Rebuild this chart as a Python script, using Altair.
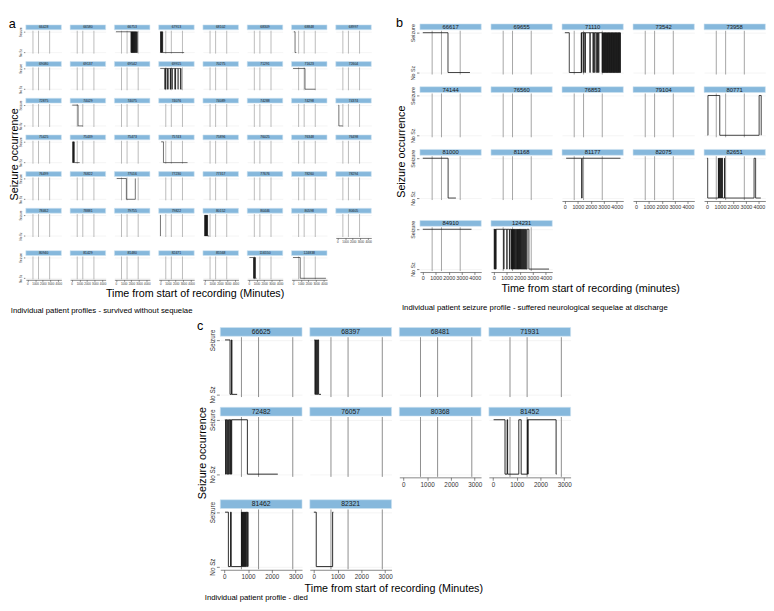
import altair as alt
import pandas as pd

FONT = "Liberation Sans"
REF_TIMES = [720, 1440, 2880]

# ---------------- panel a : survived without sequelae ----------------
A_IDS = ["66428", "66580", "66753", "67913", "68102", "68309", "68848", "68997",
         "69080", "69137", "69542", "69915", "70275", "71291", "71623", "72604",
         "72875", "74029", "74075", "74076", "74089", "74288", "74298", "74374",
         "75425", "75439", "75473", "75743", "75896", "76025", "76348", "76498",
         "76499", "76822", "77016", "77230", "77317", "77676", "78260", "78294",
         "78462", "78881", "79755", "79822", "80152", "80446", "80598", "80605",
         "80940", "81429", "81480", "82471", "85568", "116550", "124838"]
A_STEPS = {
    "66753": [(0, 1), (1950, 0), (1980, 1), (2010, 0), (2040, 1), (2070, 0), (2100, 1), (2130, 0),
              (2160, 1), (2190, 0), (2220, 1), (2250, 0), (2290, 1), (2320, 0), (2350, 1), (2380, 0),
              (2420, 1), (2450, 0), (2480, 1), (2520, 0), (2560, 1), (2600, 0), (2640, 1), (2680, 0),
              (2720, 1), (2760, 0), (2800, 0)],
    "67913": [(0, 1), (40, 0), (70, 1), (110, 0), (140, 1), (180, 0), (210, 1), (250, 0), (280, 1),
              (320, 0), (3100, 0)],
    "68848": [(100, 1), (260, 0), (430, 0)],
    "69915": [(0, 1), (600, 0), (630, 1), (660, 0), (690, 1), (900, 0), (930, 1), (1000, 0), (1030, 1),
              (1300, 0), (1330, 1), (1360, 0), (1390, 1), (1550, 0), (1580, 1), (1900, 0), (1930, 1),
              (1960, 0), (1990, 1), (2300, 0), (2330, 1), (2620, 0), (2650, 1), (2700, 0), (2760, 0)],
    "71623": [(0, 1), (1550, 0), (2900, 0)],
    "74029": [(75, 1), (830, 0), (1450, 0)],
    "74374": [(150, 1), (200, 0), (700, 0)],
    "75439": [(100, 1), (140, 0), (170, 1), (200, 0), (230, 1), (260, 0), (290, 1), (330, 0), (1040, 0)],
    "75743": [(120, 1), (420, 0), (3540, 0)],
    "77016": [(100, 1), (1350, 0), (2510, 1)],
    "79822": [(0, 1), (30, 0), (60, 0)],
    "80152": [(0, 1), (30, 0), (60, 1), (90, 0), (120, 1), (150, 0), (180, 1), (210, 0), (240, 1),
              (270, 0), (300, 1), (330, 0), (360, 1), (400, 0), (600, 0)],
    "116550": [(80, 1), (620, 0), (660, 1), (700, 0), (740, 1), (780, 0), (820, 1), (860, 0), (1000, 0)],
    "124838": [(0, 1), (930, 0), (4260, 0)],
}

# ---------------- panel b : neurological sequelae ----------------
B_IDS = ["66617", "69655", "71110", "73542", "73958", "74144", "76560", "76853", "79104",
         "80771", "81000", "81168", "81177", "82075", "82651", "84910", "124231"]
B_STEPS = {
    "66617": [(0, 1), (1940, 0), (3630, 0)],
    "71110": [(0, 1), (340, 0), (1260, 1), (1290, 0), (1310, 1), (1450, 0), (1470, 1), (1560, 0),
              (1580, 1), (1930, 0), (1950, 1), (2170, 0), (2190, 1), (2250, 0), (2270, 1), (2400, 0),
              (2420, 1), (2510, 0), (2530, 1), (2600, 0), (2620, 1), (2870, 0), (2900, 1), (2930, 0),
              (2960, 1), (2990, 0), (3020, 1), (3050, 0), (3080, 1), (3110, 0), (3140, 1), (3170, 0),
              (3200, 1), (3230, 0), (3260, 1), (3290, 0), (3320, 1), (3350, 0), (3380, 1), (3410, 0),
              (3440, 1), (3470, 0), (3500, 1), (3530, 0), (3560, 1), (3590, 0), (3620, 1), (3650, 0),
              (3680, 1), (3710, 0), (3740, 1), (3770, 0), (3800, 1), (3830, 0), (3860, 1), (3890, 0),
              (3920, 1), (3950, 0), (3980, 1), (4010, 0), (4040, 1), (4070, 0), (4100, 1), (4130, 0),
              (4160, 1), (4190, 0), (4220, 1), (4250, 0), (4280, 1), (4290, 1)],
    "80771": [(60, 0), (80, 1), (990, 0), (4020, 1), (4180, 0)],
    "81000": [(0, 1), (1950, 0), (2550, 0)],
    "81177": [(100, 1), (1290, 0), (1330, 1), (4280, 1)],
    "82651": [(0, 1), (60, 0), (880, 1), (900, 0), (930, 1), (960, 0), (1000, 1), (1040, 0), (1080, 1),
              (1120, 0), (1160, 1), (1200, 0), (1350, 1), (1370, 0), (3630, 1), (3750, 0), (4150, 0)],
    "84910": [(0, 1), (3750, 1)],
    "124231": [(0, 1), (30, 0), (60, 1), (90, 0), (120, 1), (150, 0), (170, 1), (760, 0), (780, 1),
               (1000, 0), (1020, 1), (1200, 0), (1230, 1), (1330, 0), (1360, 1), (1390, 0), (1420, 1),
               (1450, 0), (1480, 1), (1510, 0), (1540, 1), (1570, 0), (1600, 1), (1640, 0), (1680, 1),
               (1720, 0), (1760, 1), (1790, 0), (1820, 1), (1850, 0), (1880, 1), (1910, 0), (1940, 1),
               (1970, 0), (2000, 1), (2030, 0), (2060, 1), (2100, 0), (2140, 1), (2180, 0), (2220, 1),
               (2260, 0), (2300, 1), (2340, 0), (2380, 1), (2420, 0), (2460, 1), (2500, 0), (2560, 1),
               (2700, 0), (4250, 0)],
}

# ---------------- panel c : died ----------------
C_IDS = ["66625", "68397", "68481", "71931", "72482", "76057", "80368", "81452", "81462", "82321"]
C_STEPS = {
    "66625": [(30, 1), (240, 0), (300, 1), (320, 0), (540, 0)],
    "68397": [(20, 1), (45, 0), (70, 1), (95, 0), (120, 1), (145, 0), (170, 1), (200, 0), (300, 0)],
    "72482": [(20, 1), (50, 0), (80, 1), (110, 0), (140, 1), (170, 0), (200, 1), (230, 0), (260, 1),
              (290, 0), (310, 1), (970, 0), (2250, 0)],
    "81452": [(30, 1), (510, 0), (600, 1), (620, 0), (1090, 1), (1190, 0), (1450, 1), (1470, 0),
              (1480, 1), (2660, 0), (2680, 0)],
    "81462": [(30, 1), (170, 0), (260, 1), (290, 0), (720, 1), (740, 0), (760, 1), (780, 0), (800, 1),
              (820, 0), (840, 1), (860, 0), (880, 1), (900, 0), (920, 1), (950, 0), (970, 1), (1000, 0)],
    "82321": [(0, 1), (100, 0), (790, 1), (820, 1)],
}


def build_df(ids, steps):
    rows = []
    for pid in ids:
        rows.append(dict(pid=pid, kind="lab", t=0, s=0, o=0))
        for r in REF_TIMES:
            rows.append(dict(pid=pid, kind="ref", t=r, s=0, o=0))
        for j, (t, s) in enumerate(steps.get(pid, [])):
            rows.append(dict(pid=pid, kind="step", t=t, s=s, o=j))
    return pd.DataFrame(rows)


def seg(ids, steps, ncol, st, show_x, show_ylab):
    W, H = st["W"], st["H"]
    df = build_df(ids, steps)
    xscale = alt.Scale(domain=st["xdom"], nice=False, zero=False)
    if show_x:
        xaxis = alt.Axis(values=st["xvals"], title=None, format="d", labelFontSize=st["lab"],
                         labelFont=FONT, labelColor="#333333", tickSize=st["tick"],
                         tickColor="#333333", tickWidth=0.6, domainColor="#333333",
                         domainWidth=0.6, grid=False, labelPadding=1, labelFlush=False)
    else:
        xaxis = None
    if show_ylab:
        yaxis = alt.Axis(values=[0, 1], title=None,
                         labelExpr="datum.value == 1 ? 'Seizure' : 'No Sz'",
                         labelAngle=270, labelAlign="center", labelBaseline="bottom",
                         labelFontSize=st["lab"], labelFont=FONT, labelColor="#333333",
                         tickSize=st["tick"], tickColor="#333333", tickWidth=0.6, domain=False,
                         grid=True, gridColor="#ececec", gridWidth=0.6, labelPadding=1)
    else:
        yaxis = alt.Axis(values=[0, 1], title=None, labels=False, ticks=False, domain=False,
                         grid=True, gridColor="#ececec", gridWidth=0.6)
    yscale = alt.Scale(domain=[-0.05, 1.05], nice=False, zero=False)
    base = alt.Chart().properties(width=W, height=H)
    refs = base.transform_filter("datum.kind == 'ref'").mark_rule(
        color="#8c8c8c", strokeWidth=st["rlw"]).encode(
        x=alt.X("t:Q", scale=xscale, axis=xaxis), y=alt.value(0), y2=alt.value(H))
    step = base.transform_filter("datum.kind == 'step'").mark_line(
        interpolate="step-after", color="#111111", strokeWidth=st["lw"]).encode(
        x=alt.X("t:Q", scale=xscale, axis=xaxis),
        y=alt.Y("s:Q", scale=yscale, axis=yaxis),
        order="o:Q")
    sh = st["sh"]
    strip = base.transform_filter("datum.kind == 'lab'").mark_rect(
        fill="#86b8dc", stroke="#cfe3f2", strokeWidth=0.6).encode(
        x=alt.value(0), x2=alt.value(W), y=alt.value(-sh - 1), y2=alt.value(-1))
    txt = base.transform_filter("datum.kind == 'lab'").mark_text(
        fontSize=st["sfs"], font=FONT, color="#1a1a1a", baseline="middle", align="center").encode(
        x=alt.value(W / 2), y=alt.value(-1 - sh / 2), text="pid:N")
    lay = alt.layer(refs, step, strip, txt, data=df)
    hdr = alt.Header(labels=False, labelFontSize=1, labelColor="transparent", labelPadding=0,
                     title=None, titleFontSize=1, titlePadding=0)
    return lay.facet(facet=alt.Facet("pid:N", sort=ids, header=hdr, title=None),
                     columns=ncol, spacing={"row": st["sr"], "column": st["sc"]})


def grid_block(ids, steps, ncol, nrow, st, last_gap):
    """Split a wrapped grid so that x axes sit under the last cell of each column."""
    n = len(ids)
    n_last = n - (nrow - 1) * ncol          # cells in the incomplete last row
    rows = [ids[i * ncol:(i + 1) * ncol] for i in range(nrow)]
    left_top = [p for r in rows[:-1] for p in r[:n_last]]
    left_bot = rows[-1]
    right = [p for r in rows[:-1] for p in r[n_last:]]
    left = alt.vconcat(seg(left_top, steps, n_last, st, False, True),
                       seg(left_bot, steps, n_last, st, True, True), spacing=last_gap)
    if right:
        return alt.hconcat(left, seg(right, steps, ncol - n_last, st, True, False), spacing=st["sc"])
    return left


def block(body, letter, ytitle, xtitle, caption, x_dx, cap_dx, cap_off, y_off):
    mid0 = alt.hconcat(body, title=alt.TitleParams(ytitle, orient="left", anchor="middle",
                                                   fontSize=11, font=FONT, fontWeight="normal",
                                                   offset=y_off))
    inner = alt.vconcat(mid0, title=alt.TitleParams(xtitle, orient="bottom", anchor="middle",
                                                    fontSize=11, font=FONT, fontWeight="normal",
                                                    offset=3, dx=x_dx))
    mid = alt.vconcat(inner, title=alt.TitleParams(caption, orient="bottom", anchor="start",
                                                   fontSize=8, font=FONT, fontWeight="normal",
                                                   offset=cap_off, dx=cap_dx))
    return alt.vconcat(mid, title=alt.TitleParams(letter, orient="top", anchor="start",
                                                  fontSize=13, font=FONT, fontWeight="normal",
                                                  offset=-7))


ST_A = dict(W=36.5, H=23.5, sh=5, sr=5.7, sc=7.5, xdom=[-200, 4400], xvals=[0, 1000, 2000, 3000, 4000],
            sfs=3.5, lab=3, tick=1.5, lw=0.6, rlw=0.6)
ST_B = dict(W=63, H=45, sh=6, sr=9.5, sc=8, xdom=[-220, 4500], xvals=[0, 1000, 2000, 3000, 4000],
            sfs=6, lab=5.5, tick=2.5, lw=0.8, rlw=0.8)
ST_C = dict(W=84, H=61.5, sh=9, sr=8, sc=6, xdom=[-170, 3270], xvals=[0, 1000, 2000, 3000],
            sfs=7, lab=6.5, tick=3, lw=0.9, rlw=1)

A = block(grid_block(A_IDS, A_STEPS, 8, 7, ST_A, 8),
          "a", "Seizure occurrence", "Time from start of recording (Minutes)",
          "Individual patient profiles - survived without sequelae", 5, 2, 9, 0)
B = block(grid_block(B_IDS, B_STEPS, 5, 4, ST_B, 13),
          "b", "Seizure occurrence", "Time from start of recording (minutes)",
          "Individual patient seizure profile - suffered neurological sequelae at discharge",
          10, 6, 10, 4)
C = block(grid_block(C_IDS, C_STEPS, 4, 3, ST_C, 15),
          "c", "Seizure occurrence", "Time from start of recording (Minutes)",
          "Individual patient profile - died", 10, 8, 1, 2)

chart = alt.vconcat(alt.hconcat(A, B, spacing=24), C, spacing=4, center=True).properties(
    padding={"left": 0, "top": 0, "right": 0, "bottom": 0}
).configure(font=FONT).configure_view(strokeWidth=0).configure_title(color="#000000").configure_header(
    labels=False, labelFontSize=1, labelPadding=0, titlePadding=0
).configure_headerFacet(labels=False, labelFontSize=1, labelPadding=0, titlePadding=0)

chart.save("out.html", embed_options={"renderer": "svg", "actions": False})
